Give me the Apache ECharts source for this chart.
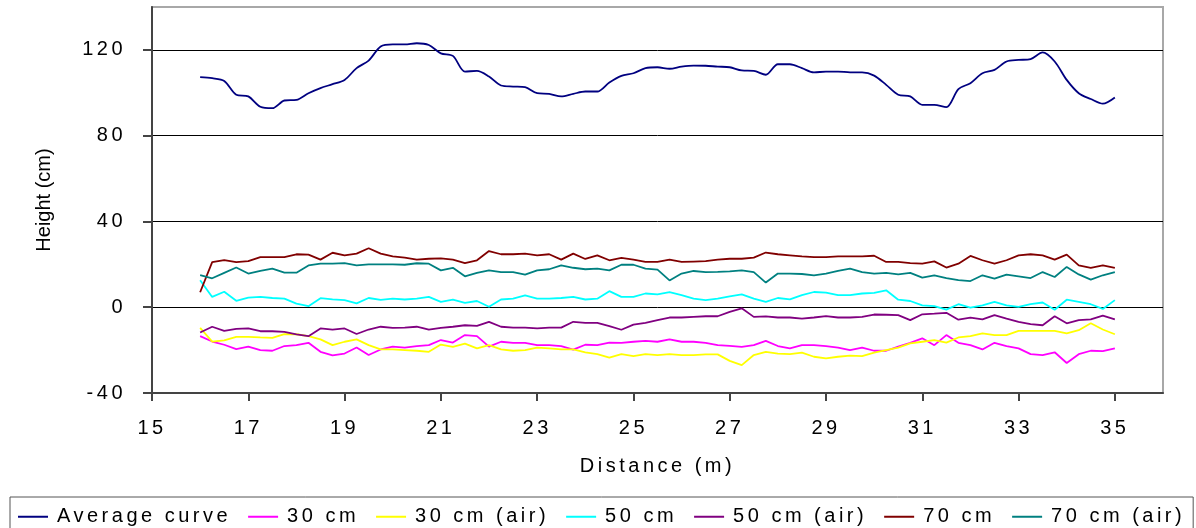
<!DOCTYPE html>
<html><head><meta charset="utf-8">
<script src="https://cdn.jsdelivr.net/npm/echarts@6/dist/echarts.min.js"></script>
<style>html,body{margin:0;padding:0;background:#fff}#c{width:1196px;height:528px}</style>
</head><body><div id="c"></div>
<script>
// Excel-style character spacing for texts drawn in "Liberation Sans"
(function(){
  var p = CanvasRenderingContext2D.prototype;
  function sp(ctx){ try { ctx.letterSpacing = /Liberation Sans/.test(ctx.font) ? '3.5px' : '0px'; } catch(e){} }
  ['fillText','strokeText','measureText'].forEach(function(n){
    var o = p[n];
    p[n] = function(){ sp(this); return o.apply(this, arguments); };
  });
})();

var distance = [
  16,16.25,16.5,16.75, 17,17.25,17.5,17.75, 18,18.25,18.5,18.75, 19,19.25,19.5,19.75,
  20,20.25,20.5,20.75, 21,21.25,21.5,21.75, 22,22.25,22.5,22.75, 23,23.25,23.5,23.75,
  24,24.25,24.5,24.75, 25,25.25,25.5,25.75, 26,26.25,26.5,26.75, 27,27.25,27.5,27.75,
  28,28.25,28.5,28.75, 29,29.25,29.5,29.75, 30,30.25,30.5,30.75, 31,31.25,31.5,31.75,
  32,32.25,32.5,32.75, 33,33.25,33.5,33.75, 34,34.25,34.5,34.75, 35
];
var seriesNames = ['Average curve','30 cm','30 cm (air)','50 cm','50 cm (air)','70 cm','70 cm (air)'];
var averageCurve = [
  107.3,106.8,105.5,99.1, 98.3,93.5,92.8,96.4, 96.7,99.8,102.2,104, 106,111.5,115,121.6,
  122.6,122.6,123.1,122.3, 118.4,117.2,109.9,110.2, 107.6,103.4,102.9,102.6, 99.8,99.5,98.3,99.5,
  100.6,100.6,104.8,107.9, 109.1,111.5,111.9,111.2, 112.2,112.7,112.6,112.2, 111.9,110.4,110.2,108.4,
  113.3,113.3,111.5,109.5, 109.9,109.9,109.5,109.5, 108,103.7,99.1,98.3, 94.4,94.4,93.3,101.7,
  104.5,109.1,110.7,114.6, 115.3,115.7,118.8,114.6, 106,99.8,97.1,94.9, 97.8
];
var cm30 = [
  -13.5,-16,-17.5,-19.5, -18.4,-20,-20.3,-18.1, -17.7,-16.6,-20.8,-22.5, -21.6,-18.8,-22.3,-19.7,
  -18.4,-18.8,-18.1,-17.7, -15.3,-16.5,-13,-13.5, -18.4,-16.1,-16.6,-16.6, -17.7,-17.7,-18.1,-19.8,
  -17.5,-17.7,-16.5,-16.6, -16.1,-15.7,-16.1,-15, -16.1,-16.1,-16.6,-17.7, -18,-18.5,-17.7,-15.7,
  -18.1,-19.2,-17.7,-17.7, -18.1,-18.8,-20,-18.8, -20.3,-20.3,-18.4,-16.6, -14.5,-17.7,-13,-16.6,
  -17.7,-19.7,-16.6,-18.1, -19.2,-21.9,-22.3,-21, -26,-21.9,-20.3,-20.5, -19.2
];
var cm30air = [
  -9.6,-16,-15.5,-13.8, -13.8,-14.1,-14.3,-12.5, -12.6,-13.5,-15,-17.7, -16.1,-15,-17.7,-19.7,
  -19.7,-20,-20.3,-20.8, -17.4,-18.5,-17,-19.2, -17.7,-19.7,-20.3,-20, -18.8,-19.2,-19.7,-19.7,
  -21.1,-21.9,-23.5,-21.9, -22.8,-21.9,-22.3,-21.9, -22.3,-22.3,-22,-22, -25,-27,-22.3,-20.8,
  -21.6,-21.9,-21.2,-23.1, -23.9,-23.1,-22.6,-22.8, -21.2,-20,-18.8,-16.9, -16.1,-15.3,-16.5,-14.1,
  -13.5,-12.2,-13,-13, -11,-11,-11,-11, -12.2,-10.7,-7.5,-10.4, -12.6
];
var cm50 = [
  12.6,4.8,7.2,3, 4.5,4.8,4.3,4, 1.7,0.5,4.2,3.7, 3.3,1.8,4.3,3.4,
  4,3.6,4,4.8, 2.5,3.5,2,2.9, 0.2,3.6,4,5.5, 4,4,4.3,4.8,
  3.6,4,7.5,4.8, 4.8,6.4,6,7, 5.6,4,3.3,4, 5.1,6,4,2.5,
  4.3,3.7,5.6,7.1, 6.8,5.6,5.6,6.4, 6.7,7.9,3.5,2.9, 0.9,0.5,-1.1,1.4,
  -0.2,0.9,2.5,0.9, 0.2,1.4,2.2,-1.2, 3.5,2.5,1.4,-0.8, 3.3
];
var cm50air = [
  -11.8,-9.1,-11,-10.1, -9.9,-11.2,-11.2,-11.5, -12.7,-13.5,-9.9,-10.4, -9.9,-12.5,-10.4,-9.1,
  -9.6,-9.5,-9.1,-10.4, -9.6,-9.1,-8.4,-8.7, -6.8,-9.1,-9.5,-9.5, -9.9,-9.5,-9.5,-6.8,
  -7.3,-7.3,-8.8,-10.5, -8.1,-7.3,-6,-4.8, -4.8,-4.5,-4.2,-4.2, -2.2,-0.5,-4.5,-4.3,
  -4.8,-4.8,-5.3,-4.8, -4.2,-4.8,-4.8,-4.5, -3.4,-3.5,-3.7,-6, -3.3,-3,-2.6,-5.8,
  -4.8,-5.7,-3.7,-5.3, -6.8,-7.9,-8.4,-4.2, -7.5,-6,-5.7,-3.9, -5.7
];
var cm70 = [
  7,21,22,21, 21.5,23.4,23.4,23.4, 24.7,24.5,22.2,25.4, 24.2,25,27.5,25,
  23.7,23.1,22.2,22.6, 22.8,22.2,20.6,21.9, 26.2,24.7,24.7,25, 24.2,24.7,22.2,25,
  22.5,24.2,21.9,23, 22.2,21.1,21.1,22.2, 21.1,21.3,21.5,22.2, 22.6,22.6,23.1,25.5,
  24.7,24.2,23.7,23.4, 23.4,23.7,23.7,23.7, 24,21.1,21.1,20.6, 20.3,21.4,18.5,20.3,
  23.9,21.9,20.3,21.9, 24.2,24.7,24.2,22.2, 24.5,19.5,18.4,19.5, 18.3
];
var cm70air = [
  15,13.5,16,18.5, 15.7,17,18,16.1, 16.1,19.5,20.3,20.3, 20.6,19.5,20,20,
  20,19.8,20.5,20.3, 17.2,18.4,14.4,16, 17.2,16.4,16.4,15.2, 17.2,17.7,19.5,18.4,
  17.7,18,17.2,19.8, 19.8,18,17.5,12.5, 15.7,16.9,16.4,16.5, 16.7,17.2,16.4,11.5,
  15.7,15.7,15.5,14.9, 15.7,16.9,18,16.4, 15.7,16,15.3,16, 13.8,14.9,13.6,12.6,
  12.2,14.9,13.3,15.2, 14.4,13.6,16.4,14.1, 18.8,15.3,12.9,14.9, 16.4
];
var xTicks = [15,17,19,21,23,25,27,29,31,33,35];
var yTicks = [-40,0,40,80,120];

var colors = ['#000080','#ff00ff','#ffff00','#00ffff','#800080','#800000','#008080'];
var values = [averageCurve, cm30, cm30air, cm50, cm50air, cm70, cm70air];

var FONT = 'Liberation Sans';
var series = seriesNames.map(function(name, k){
  return {
    name: name, type: 'line', symbol: 'none', showSymbol: false,
    smooth: k === 0 ? 0.3 : false,
    lineStyle: { color: colors[k], width: 1.8 },
    itemStyle: { color: colors[k] },
    data: distance.map(function(x, i){ return [x, values[k][i]]; })
  };
});

var chart = echarts.init(document.getElementById('c'), null, { renderer: 'canvas' });
chart.setOption({
  animation: false,
  backgroundColor: '#ffffff',
  textStyle: { fontFamily: FONT, color: '#000' },
  grid: { left: 152, right: 33, top: 7, bottom: 135, show: true, borderColor: '#a8a8a8', borderWidth: 2, backgroundColor: '#fff' },
  xAxis: {
    type: 'value', min: 15, max: 36, interval: 2,
    name: 'Distance (m)', nameLocation: 'middle', nameGap: 62,
    nameTextStyle: { fontSize: 20, fontFamily: FONT, color: '#000' },
    axisLine: { show: true, onZero: false, lineStyle: { color: '#444', width: 2 } },
    axisTick: { show: true, length: 8, customValues: xTicks, lineStyle: { color: '#444', width: 2 } },
    axisLabel: { fontSize: 20, fontFamily: FONT, color: '#000', margin: 24, customValues: xTicks },
    splitLine: { show: false }
  },
  yAxis: {
    type: 'value', min: -40, max: 140, interval: 40,
    name: 'Height (cm)', nameLocation: 'middle', nameGap: 98, nameRotate: 90,
    nameTextStyle: { fontSize: 20, fontFamily: 'Arial', color: '#000' },
    axisLine: { show: true, lineStyle: { color: '#444', width: 2 } },
    axisTick: { show: true, length: 9, customValues: yTicks, lineStyle: { color: '#444', width: 2 } },
    axisLabel: { fontSize: 20, fontFamily: FONT, color: '#000', margin: 26, customValues: yTicks },
    splitLine: { show: true, lineStyle: { color: ['#000','#000','#000','#000','#000','#a8a8a8'], width: 1 } }
  },
  legend: {
    data: seriesNames, left: 10, top: 497, width: 1200, orient: 'horizontal',
    icon: 'rect', itemWidth: 30, itemHeight: 2, itemGap: 17,
    padding: [8, 8, 9, 8], borderColor: '#555', borderWidth: 1,
    textStyle: { fontSize: 20, fontFamily: FONT, color: '#000', padding: [0, 0, 0, 4] }
  },
  series: series
});
</script>
</body></html>
